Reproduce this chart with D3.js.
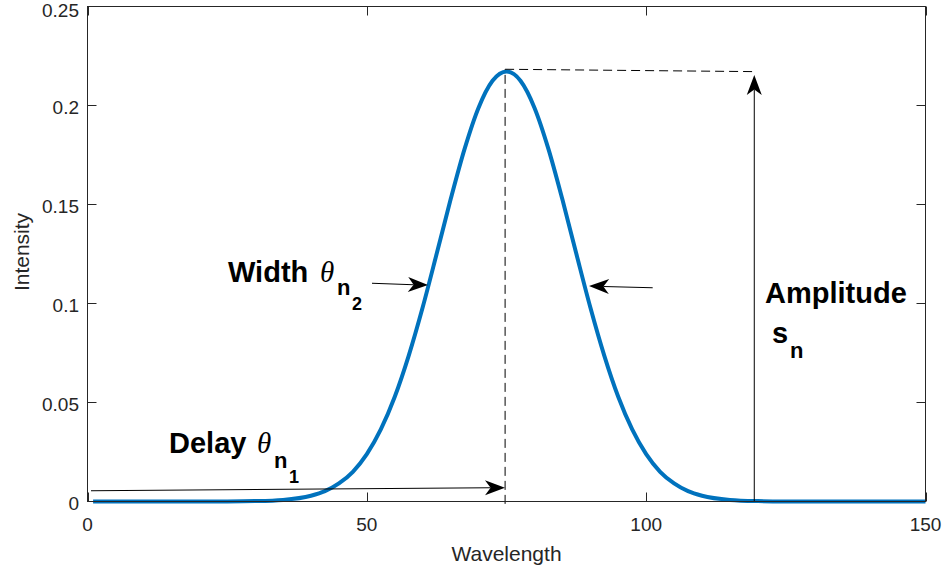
<!DOCTYPE html>
<html>
<head>
<meta charset="utf-8">
<script src="https://cdn.jsdelivr.net/npm/d3@7/dist/d3.min.js"></script>
<style>
  html, body { margin: 0; padding: 0; background: #ffffff; }
  svg { display: block; }
</style>
</head>
<body>
<svg id="chart" width="951" height="573"></svg>
<script>
// ---------------- data ----------------
const wavelength = [1, 5, 10, 15, 20, 25, 30, 35, 40, 42.5, 45, 47.5, 50, 52.5, 55, 57.5, 60, 62.5,
  65, 67.5, 70, 72.5, 75, 77.5, 80, 82.5, 85, 87.5, 90, 92.5, 95, 97.5, 100, 102.5, 105, 107.5,
  110, 115, 120, 125, 130, 140, 150];
const intensity = [0, 0, 0, 0, 0, 0.00003, 0.0002, 0.0008, 0.0029, 0.0052, 0.0091, 0.0150, 0.0239,
  0.0364, 0.0529, 0.0737, 0.0981, 0.1251, 0.1526, 0.1781, 0.1989, 0.2125, 0.2172, 0.2125, 0.1989,
  0.1781, 0.1526, 0.1251, 0.0981, 0.0737, 0.0529, 0.0364, 0.0239, 0.0150, 0.0091, 0.0052, 0.0029,
  0.0008, 0.0002, 0.00003, 0, 0, 0];

const xTicks = [0, 50, 100, 150];
const xTickLabels = ["0", "50", "100", "150"];
const yTicks = [0, 0.05, 0.1, 0.15, 0.2, 0.25];
const yTickLabels = ["0", "0.05", "0.1", "0.15", "0.2", "0.25"];
const xLabel = "Wavelength";
const yLabel = "Intensity";

// annotation geometry in data units: [x1, y1, x2, y2]
const arrowSegments = [
  [0.63, 0.00545, 74.73, 0.00697],   // delay
  [50.92, 0.1102, 60.95, 0.1093],    // width left
  [101.17, 0.1080, 89.77, 0.1088],   // width right
  [119.35, 0, 119.35, 0.2154]        // amplitude
];
const dashedSegments = [
  [74.75, -0.0012, 74.75, 0.2183],
  [74.75, 0.2183, 119.8, 0.2171]
];
// annotation texts: [text, x, y, level] level 0 main, 1 subscript, 2 sub-subscript, 3 theta
const annotationTexts = [
  ["Delay", 14.59, 0.0245, 0],
  ["\u03B8", 30.34, 0.0245, 3],
  ["n", 33.38, 0.0169, 1],
  ["1", 36.07, 0.0093, 2],
  ["Width", 25.15, 0.1110, 0],
  ["\u03B8", 41.62, 0.1110, 3],
  ["n", 44.66, 0.1043, 1],
  ["2", 47.34, 0.0967, 2],
  ["Amplitude", 121.27, 0.1003, 0],
  ["s", 122.52, 0.0801, 0],
  ["n", 125.74, 0.0725, 1]
];

// ---------------- drawing ----------------
(function () {
const svg = d3.select("#chart");
const W = 951, H = 573;
const pL = 87.5, pR = 925.5, pT = 6.5, pB = 501.5;
const axisColor = "#262626";

svg.append("rect").attr("width", W).attr("height", H).attr("fill", "#ffffff");

const x = d3.scaleLinear().domain([0, 150]).range([pL, pR]);
const y = d3.scaleLinear().domain([0, 0.25]).range([pB, pT]);

// curve
const pts = wavelength.map((w, i) => [w, intensity[i]]);
const line = d3.line().x(d => x(d[0])).y(d => y(d[1])).curve(d3.curveMonotoneX);
svg.append("path").datum(pts)
  .attr("d", line)
  .attr("fill", "none")
  .attr("stroke", "#0072BD")
  .attr("stroke-width", 4)
  .attr("stroke-linejoin", "round");

// dashed guides
svg.selectAll("line.dash").data(dashedSegments).enter().append("line")
  .attr("class", "dash")
  .attr("x1", d => x(d[0])).attr("y1", d => y(d[1]))
  .attr("x2", d => x(d[2])).attr("y2", d => y(d[3]))
  .attr("stroke", "#000").attr("stroke-width", 1)
  .attr("stroke-dasharray", "9,5");

// arrows
const headL = 20, headW = 7.5, notch = 0.72;
const arrowG = svg.append("g");
arrowSegments.forEach(s => {
  const x1 = x(s[0]), y1 = y(s[1]), x2 = x(s[2]), y2 = y(s[3]);
  const ang = Math.atan2(y2 - y1, x2 - x1) * 180 / Math.PI;
  const len = Math.hypot(x2 - x1, y2 - y1);
  const g = arrowG.append("g").attr("transform", `translate(${x2},${y2}) rotate(${ang})`);
  g.append("line").attr("x1", -len).attr("y1", 0).attr("x2", -headL * notch).attr("y2", 0)
    .attr("stroke", "#000").attr("stroke-width", 1);
  g.append("path")
    .attr("d", `M0,0 L${-headL},${-headW} L${-headL * notch},0 L${-headL},${headW} Z`)
    .attr("fill", "#000");
});

// axes box
const axG = svg.append("g");
axG.append("rect").attr("x", pL).attr("y", pT).attr("width", pR - pL).attr("height", pB - pT)
  .attr("fill", "none").attr("stroke", axisColor).attr("stroke-width", 1);

const tickLen = 9;
xTicks.forEach(t => {
  const px = Math.round(x(t)) + 0.5;
  axG.append("line").attr("x1", px).attr("x2", px).attr("y1", pB).attr("y2", pB - tickLen)
    .attr("stroke", axisColor);
  axG.append("line").attr("x1", px).attr("x2", px).attr("y1", pT).attr("y2", pT + tickLen)
    .attr("stroke", axisColor);
});
yTicks.forEach(t => {
  const py = y(t);
  axG.append("line").attr("x1", pL).attr("x2", pL + tickLen).attr("y1", py).attr("y2", py)
    .attr("stroke", axisColor);
  axG.append("line").attr("x1", pR).attr("x2", pR - tickLen).attr("y1", py).attr("y2", py)
    .attr("stroke", axisColor);
});

const tickFont = "'Liberation Sans', Arial, Helvetica, sans-serif";
const tickSize = 19;
svg.selectAll("text.xt").data(xTicks).enter().append("text")
  .attr("class", "xt")
  .attr("x", d => x(d)).attr("y", 531)
  .attr("text-anchor", "middle")
  .attr("font-family", tickFont).attr("font-size", tickSize).attr("fill", axisColor)
  .text((d, i) => xTickLabels[i]);

// keep the topmost label fully inside the page
svg.selectAll("text.yt").data(yTicks).enter().append("text")
  .attr("class", "yt")
  .attr("x", 79).attr("y", d => Math.max(y(d) + 0.43 * tickSize, 0.92 * tickSize))
  .attr("text-anchor", "end")
  .attr("font-family", tickFont).attr("font-size", tickSize).attr("fill", axisColor)
  .text((d, i) => yTickLabels[i]);

svg.append("text")
  .attr("x", (pL + pR) / 2).attr("y", 560.5)
  .attr("text-anchor", "middle")
  .attr("font-family", tickFont).attr("font-size", 21).attr("fill", axisColor)
  .text(xLabel);

svg.append("text")
  .attr("transform", `translate(28.5,${(pT + pB) / 2 - 2}) rotate(-90)`)
  .attr("text-anchor", "middle")
  .attr("font-family", tickFont).attr("font-size", 21).attr("fill", axisColor)
  .text(yLabel);

const sizes = [29, 22, 18, 29];
annotationTexts.forEach(a => {
  const isTheta = a[3] === 3;
  svg.append("text")
    .attr("x", x(a[1])).attr("y", y(a[2]))
    .attr("font-family", isTheta ? "'Liberation Serif', 'Times New Roman', serif" : tickFont)
    .attr("font-style", isTheta ? "italic" : "normal")
    .attr("font-weight", isTheta ? "normal" : "bold")
    .attr("font-size", sizes[a[3]])
    .attr("fill", "#000")
    .text(a[0]);
});
})();
</script>
</body>
</html>
